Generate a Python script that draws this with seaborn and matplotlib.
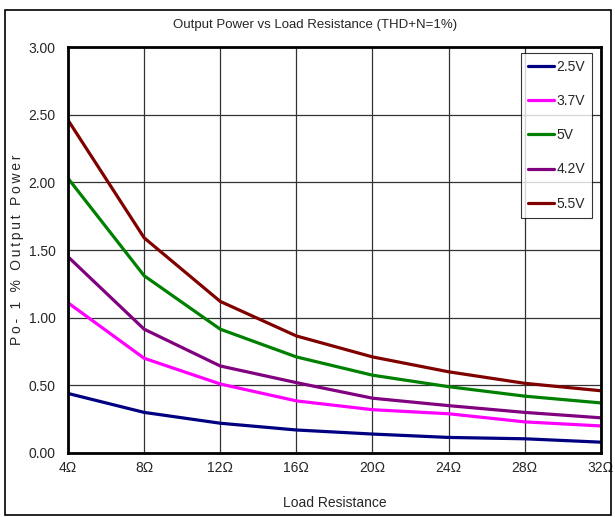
import matplotlib.pyplot as plt
import matplotlib.patches as mpatches
import seaborn as sns
import pandas as pd

# load resistance (ohm) and output power (W) per supply voltage
loads = [4, 8, 12, 16, 20, 24, 28, 32]
tick_labels = ["4Ω", "8Ω", "12Ω", "16Ω", "20Ω", "24Ω", "28Ω", "32Ω"]
series_names = ["2.5V", "3.7V", "5V", "4.2V", "5.5V"]
p_25 = [0.44, 0.30, 0.22, 0.17, 0.14, 0.115, 0.105, 0.08]
p_37 = [1.11, 0.70, 0.51, 0.385, 0.32, 0.29, 0.23, 0.20]
p_50 = [2.03, 1.31, 0.915, 0.71, 0.575, 0.49, 0.42, 0.37]
p_42 = [1.45, 0.915, 0.643, 0.52, 0.405, 0.35, 0.30, 0.26]
p_55 = [2.46, 1.59, 1.12, 0.865, 0.71, 0.60, 0.515, 0.46]
colors = ["#000080", "#FF00FF", "#008000", "#800080", "#800000"]

rows = []
for name, vals in zip(series_names, [p_25, p_37, p_50, p_42, p_55]):
    for r, p in zip(loads, vals):
        rows.append({"load": r, "power": p, "supply": name})
df = pd.DataFrame(rows)

sns.set_style("white")
plt.rcParams['font.family'] = ['Liberation Sans Narrow', 'Liberation Sans', 'DejaVu Sans']

fig = plt.figure(figsize=(6.15, 5.17), dpi=100)
ax = fig.add_axes([0.1106, 0.1238, 0.8664, 0.7852])

sns.lineplot(data=df, x="load", y="power", hue="supply", hue_order=series_names,
             palette=dict(zip(series_names, colors)), linewidth=2.3, ax=ax)

ax.set_xlim(4, 32)
ax.set_ylim(0, 3.0)
ax.set_xticks(loads)
ax.set_xticklabels(tick_labels)
ax.set_yticks([0, 0.5, 1.0, 1.5, 2.0, 2.5, 3.0])
ax.set_yticklabels(["0.00", "0.50", "1.00", "1.50", "2.00", "2.50", "3.00"])
ax.tick_params(axis="x", labelsize=10, pad=6, length=0)
ax.tick_params(axis="y", labelsize=10, pad=9, length=0)
ax.grid(True, color="#333333", linewidth=0.9)
for s in ax.spines.values():
    s.set_color("black")
    s.set_linewidth(2)

ax.set_xlabel("Load Resistance", fontsize=10, labelpad=15)
thin = "\u2009"
ax.set_ylabel(thin.join("Po- 1 % Output Power"), fontsize=10)
ax.yaxis.set_label_coords(-0.082, 0.5)
fig.text(0.513, 0.951, "Output Power vs Load Resistance (THD+N=1%)",
         ha="center", va="center", fontsize=9.5)

leg = ax.legend(loc="upper right", bbox_to_anchor=(0.983, 0.985), frameon=True,
                fontsize=10, handlelength=1.9, handletextpad=0.15,
                labelspacing=1.45, borderpad=0.5, fancybox=False,
                borderaxespad=0)
leg.get_frame().set_edgecolor("black")
leg.get_frame().set_linewidth(0.8)

fig.patches.append(mpatches.Rectangle((0.008, 0.004), 0.985, 0.976, transform=fig.transFigure,
                                      fill=False, edgecolor="black", linewidth=1.2))

fig.savefig("out.png", dpi=100)
plt.close()
